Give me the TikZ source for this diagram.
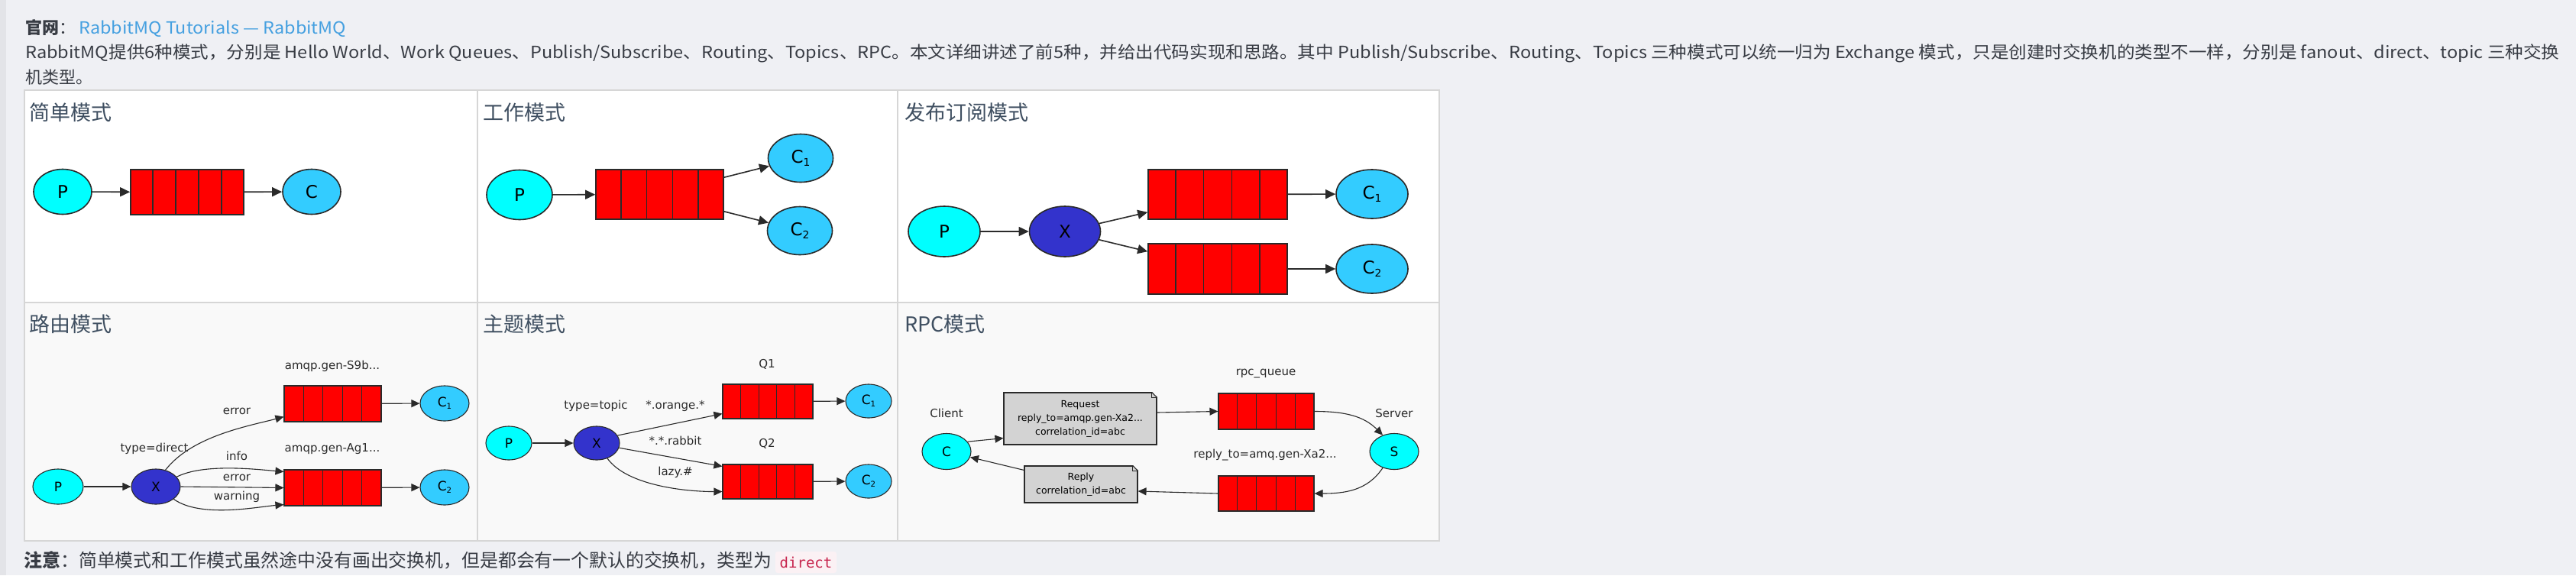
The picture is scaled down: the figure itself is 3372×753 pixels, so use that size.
\documentclass[tikz,border=0pt]{standalone}
\usepackage{fontspec}
\setmainfont{Noto Sans CJK SC}
\newfontfamily\dv{DejaVu Sans}
\newfontfamily\mono{DejaVu Sans Mono}
\usetikzlibrary{arrows.meta,calc,shapes.geometric}
\definecolor{pagebg}{HTML}{EFF0F4}
\definecolor{strip}{HTML}{E3E4E8}
\definecolor{txt}{HTML}{383C44}
\definecolor{ttl}{HTML}{3F4F61}
\definecolor{lnk}{HTML}{45A0E0}
\definecolor{bord}{HTML}{D6D6D6}
\definecolor{rowtwo}{HTML}{F9F9F9}
\definecolor{prod}{HTML}{00FFFF}
\definecolor{cons}{HTML}{33CCFF}
\definecolor{exch}{HTML}{3333CC}
\definecolor{qred}{HTML}{FF0000}
\definecolor{notegray}{HTML}{D3D3D3}
\definecolor{codefg}{HTML}{C7254E}
\definecolor{codebg}{HTML}{FBF1F4}
\definecolor{ink}{HTML}{2A2A2A}
\newcommand{\px}[1]{\fontsize{#1pt}{#1pt}\selectfont}
\newcommand{\cidx}[1]{\raisebox{-0.18em}{\scalebox{0.6}{#1}}}
\newcommand{\qcells}[2]{\foreach \k in {0.2,0.4,0.6,0.8}{\draw[draw=ink, line width=#2] ($(#1.north west)!\k!(#1.north east)$) -- ($(#1.south west)!\k!(#1.south east)$);}}
\tikzset{
  sz/.style 2 args={minimum width=#1, minimum height=#2},
  ell/.style={ellipse, draw=ink, inner sep=0pt, text=black},
  pr/.style={ell, fill=prod},
  co/.style={ell, fill=cons},
  ex/.style={ell, fill=exch},
  que/.style={rectangle, draw=ink, fill=qred, inner sep=0pt},
  big/.style={line width=1.6pt, font=\dv\px{23}},
  small/.style={line width=1.1pt, font=\dv\px{17}},
  arrone/.style={-{Triangle[length=13pt,width=12pt]}, line width=1.6pt, draw=ink},
  arrtwo/.style={-{Triangle[length=11pt,width=10pt]}, line width=1.1pt, draw=ink},
  lbl/.style={font=\dv\px{15}, text=ink, inner sep=0pt},
  ttlst/.style={font=\px{27}, text=ttl, anchor=base west, inner sep=0pt},
  para/.style={font=\px{22}, text=txt, anchor=base west, inner sep=0pt},
  notebox/.style={rectangle, draw=ink, fill=notegray, line width=1.1pt, inner sep=0pt, align=center, font=\dv\fontsize{12.5pt}{18pt}\selectfont, text=black},
}
\begin{document}
\begin{tikzpicture}[x=1pt,y=-1pt]
\useasboundingbox (0,0) rectangle (3372,753);
\fill[pagebg] (0,0) rectangle (3372,753);
\fill[strip] (0,0) rectangle (8,753);

% header text
\node[para] (h1) at (33,44) {\textbf{官网}：};
\node[para, text=lnk] (h1l) at (103,44) {\resizebox{350pt}{\height}{RabbitMQ Tutorials — RabbitMQ}};
\node[para] (h2) at (33,76) {\resizebox{3317pt}{\height}{RabbitMQ提供6种模式，分别是 Hello World、Work Queues、Publish/Subscribe、Routing、Topics、RPC。本文详细讲述了前5种，并给出代码实现和思路。其中 Publish/Subscribe、Routing、Topics 三种模式可以统一归为 Exchange 模式，只是创建时交换机的类型不一样，分别是 fanout、direct、topic 三种交换}};
\node[para] (h3) at (33,109) {机类型。};

% table
\fill[white] (32,118) rectangle (1884,396);
\fill[rowtwo] (32,396) rectangle (1884,708);
\draw[bord, line width=1.5pt] (32,118) rectangle (1884,708);
\draw[bord, line width=1.5pt] (625,118) -- (625,708);
\draw[bord, line width=1.5pt] (1175,118) -- (1175,708);
\draw[bord, line width=1.5pt] (32,396) -- (1884,396);

\node[ttlst] (t1) at (38,157) {简单模式};
\node[ttlst] (t2) at (632,157) {工作模式};
\node[ttlst] (t3) at (1184,157) {发布订阅模式};
\node[ttlst] (t4) at (38,434) {路由模式};
\node[ttlst] (t5) at (632,434) {主题模式};
\node[ttlst] (t6) at (1184,434) {RPC模式};

% ---------- simple
\begin{scope}[big]
\node[pr, sz={76pt}{59pt}] (sp) at (82,251) {P};
\node[que, sz={148pt}{59pt}] (sq) at (245,251.5) {};
\qcells{sq}{1.6pt}
\node[co, sz={76pt}{59pt}] (sc) at (408,251) {C};
\draw[arrone] (sp) -- (sq);
\draw[arrone] (sq) -- (sc);

% ---------- work
\node[pr, sz={86pt}{65pt}] (wp) at (680,255) {P};
\node[que, sz={167pt}{65pt}] (wq) at (863.5,254.5) {};
\qcells{wq}{1.6pt}
\node[co, sz={85pt}{63pt}] (wc1) at (1048,207) {C\cidx{1}};
\node[co, sz={85pt}{63pt}] (wc2) at (1047,302) {C\cidx{2}};
\draw[arrone] (wp) -- (wq);
\draw[arrone] ($(wq.north east)+(0,11)$) -- (wc1);
\draw[arrone] ($(wq.south east)+(0,-11)$) -- (wc2);

% ---------- publish/subscribe
\node[pr, sz={94pt}{66pt}] (pp) at (1236,303) {P};
\node[ex, sz={93pt}{66pt}] (px) at (1394,303) {X};
\node[que, sz={182pt}{65pt}] (pq1) at (1594,254.5) {};
\qcells{pq1}{1.6pt}
\node[que, sz={182pt}{66pt}] (pq2) at (1594,352) {};
\qcells{pq2}{1.6pt}
\node[co, sz={94pt}{64pt}] (pc1) at (1796,254) {C\cidx{1}};
\node[co, sz={94pt}{64pt}] (pc2) at (1796,352) {C\cidx{2}};
\draw[arrone] (pp) -- (px);
\draw[arrone] (px) -- ($(pq1.south west)+(0,-10)$);
\draw[arrone] (px) -- ($(pq2.north west)+(0,11)$);
\draw[arrone] (pq1) -- (pc1);
\draw[arrone] (pq2) -- (pc2);
\end{scope}

% ---------- routing
\begin{scope}[small]
\node[pr, sz={66pt}{46pt}] (rp) at (76,637) {P};
\node[ex, sz={64pt}{46pt}] (rx) at (204,637) {X};
\node[que, sz={127pt}{47pt}] (rq1) at (435.5,528.5) {};
\qcells{rq1}{1.1pt}
\node[que, sz={127pt}{47pt}] (rq2) at (435.5,638.5) {};
\qcells{rq2}{1.1pt}
\node[co, sz={64pt}{46pt}] (rc1) at (582,528) {C\cidx{1}};
\node[co, sz={64pt}{46pt}] (rc2) at (582,638) {C\cidx{2}};
\node[lbl] (rlt) at (202,587) {type=direct};
\node[lbl] (rl1) at (435,479) {amqp.gen-S9b...};
\node[lbl] (rl2) at (435,588) {amqp.gen-Ag1...};
\node[lbl] (rle1) at (310,538) {error};
\node[lbl] (rli) at (310,597) {info};
\node[lbl] (rle2) at (310,625) {error};
\node[lbl] (rlw) at (310,650) {warning};
\draw[arrtwo] (rp) -- (rx);
\draw[arrtwo] (rx.60) .. controls +(35,-45) and +(-45,12) .. ($(rq1.south west)+(0,-7)$);
\draw[arrtwo] (rx.25) .. controls +(35,-18) and +(-35,-3) .. ($(rq2.north west)+(0,3)$);
\draw[arrtwo] (rx.east) -- (rq2.west);
\draw[arrtwo] (rx.-35) .. controls +(35,25) and +(-35,3) .. ($(rq2.south west)+(0,-2)$);
\draw[arrtwo] (rq1) -- (rc1);
\draw[arrtwo] (rq2) -- (rc2);

% ---------- topics
\node[pr, sz={60pt}{44pt}] (tp) at (666,580) {P};
\node[ex, sz={60pt}{44pt}] (tx) at (781,580) {X};
\node[que, sz={118pt}{45pt}] (tq1) at (1005,525.5) {};
\qcells{tq1}{1.1pt}
\node[que, sz={118pt}{45pt}] (tq2) at (1005,630.5) {};
\qcells{tq2}{1.1pt}
\node[co, sz={60pt}{44pt}] (tc1) at (1137,525) {C\cidx{1}};
\node[co, sz={60pt}{44pt}] (tc2) at (1137,630) {C\cidx{2}};
\node[lbl] (tlt) at (780,531) {type=topic};
\node[lbl] (tl1) at (1004,477) {Q1};
\node[lbl] (tl2) at (1004,581) {Q2};
\node[lbl] (tlo) at (884,531) {*.orange.*};
\node[lbl] (tlr) at (884,577) {*.*.rabbit};
\node[lbl] (tll) at (884,618) {lazy.\#};
\draw[arrtwo] (tp) -- (tx);
\draw[arrtwo] (tx.20) -- ($(tq1.south west)+(0,-7)$);
\draw[arrtwo] (tx.-12) -- ($(tq2.north west)+(0,3)$);
\draw[arrtwo] (tx.-55) .. controls +(25,35) and +(-50,0) .. ($(tq2.south west)+(0,-10)$);
\draw[arrtwo] (tq1) -- (tc1);
\draw[arrtwo] (tq2) -- (tc2);

% ---------- RPC
\node[pr, sz={64pt}{47pt}] (rc) at (1239,591) {C};
\node[pr, sz={64pt}{47pt}] (rs) at (1825,591) {S};
\node[lbl] (rcl) at (1239,541) {Client};
\node[lbl] (rsl) at (1825,541) {Server};
\node[notebox, sz={200pt}{68pt}] (req) at (1414,548) {Request\\reply\_to=amqp.gen-Xa2...\\correlation\_id=abc};
\node[notebox, sz={148pt}{48pt}] (rep) at (1415,634) {Reply\\correlation\_id=abc};
\foreach \b in {req,rep}{
  \fill[rowtwo] ($(\b.north east)+(-7,-1)$) -- ($(\b.north east)+(1,-1)$) -- ($(\b.north east)+(1,7)$) -- cycle;
  \draw[ink, line width=1.1pt] ($(\b.north east)+(-7,0)$) -- ($(\b.north east)+(0,7)$);
  \draw[ink, line width=0.6pt] ($(\b.north east)+(-7,0)$) -- ($(\b.north east)+(-7,7)$) -- ($(\b.north east)+(0,7)$);
}
\node[que, sz={125pt}{47pt}] (pq) at (1657.5,538.5) {};
\qcells{pq}{1.1pt}
\node[que, sz={125pt}{46pt}] (aq) at (1657.5,646) {};
\qcells{aq}{1.1pt}
\node[lbl] (pql) at (1657,489) {rpc\_queue};
\node[lbl] (aql) at (1656,596) {reply\_to=amq.gen-Xa2...};
\draw[arrtwo] (rc.25) -- ($(req.south west)+(0,-9)$);
\draw[arrtwo] ($(req.east)+(0,-8)$) -- (pq.west);
\draw[arrtwo] (pq.east) .. controls +(40,0) and +(-25,-25) .. (rs.125);
\draw[arrtwo] (rs.235) .. controls +(-20,30) and +(40,0) .. (aq.east);
\draw[arrtwo] (aq.west) -- ($(rep.east)+(0,9)$);
\draw[arrtwo] ($(rep.north west)+(0,6)$) -- (rc);
\end{scope}

% footer
\node[para, font=\px{24}] (f1) at (31,742) {\textbf{注意}：};
\node[para, font=\px{24}] (f2) at (103,742) {\resizebox{907pt}{\height}{简单模式和工作模式虽然途中没有画出交换机，但是都会有一个默认的交换机，类型为}};
\node[rectangle, rounded corners=3pt, fill=codebg, minimum width=80pt, minimum height=28pt, inner sep=0pt, font=\mono\px{19}, text=codefg] (code) at (1055,736) {direct};
\end{tikzpicture}
\end{document}
